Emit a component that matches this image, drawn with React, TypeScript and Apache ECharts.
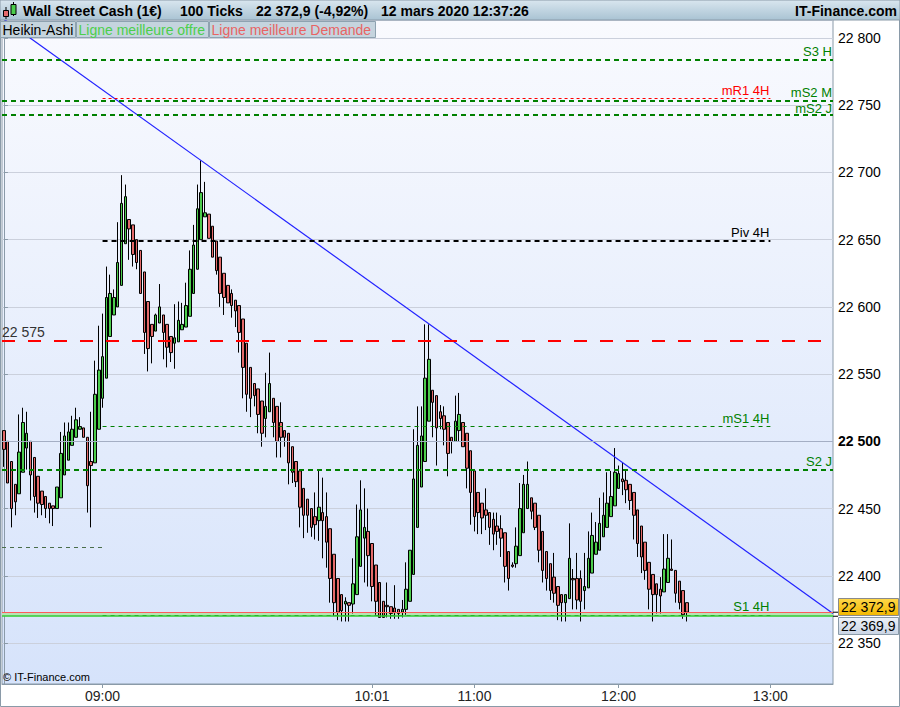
import React, { useEffect, useRef } from 'react';
import * as echarts from 'echarts';

const FONT = '"Liberation Sans", Arial, sans-serif';

// Heikin-Ashi candles (100 ticks each)
const opens = [22508,22500,22485,22468,22461,22477,22495,22500,22488,22474,22463,22459,22454,22452,22450,22458,22475,22486,22497,22503,22509,22510,22503,22485,22484,22509,22532,22547,22578,22594,22600,22616,22647,22665,22661,22650,22642,22626,22604,22587,22582,22588,22594,22587,22578,22573,22574,22583,22585,22593,22610,22628,22650,22667,22669,22660,22649,22637,22625,22616,22610,22605,22601,22591,22573,22555,22543,22539,22530,22517,22522,22532,22526,22514,22508,22506,22496,22485,22478,22465,22457,22450,22444,22441,22447,22444,22435,22416,22398,22386,22379,22380,22379,22386,22407,22428,22433,22424,22408,22395,22381,22378,22377,22376,22375,22373,22375,22381,22401,22436,22466,22485,22515,22538,22534,22522,22519,22514,22503,22500,22508,22514,22506,22493,22478,22462,22454,22449,22447,22442,22437,22435,22432,22418,22408,22409,22415,22432,22450,22458,22454,22445,22433,22418,22409,22399,22392,22386,22380,22383,22398,22398,22398,22389,22391,22402,22416,22419,22429,22436,22444,22452,22465,22472,22471,22468,22462,22449,22437,22425,22410,22401,22394,22390,22388,22395,22405,22404,22396,22389,22380];
const closes = [22494,22469,22450,22455,22492,22514,22506,22475,22459,22454,22453,22450,22450,22450,22466,22491,22504,22507,22509,22516,22511,22503,22467,22482,22535,22553,22563,22607,22610,22607,22633,22677,22682,22658,22639,22633,22610,22581,22569,22578,22594,22600,22581,22570,22566,22577,22590,22587,22601,22628,22646,22673,22685,22670,22651,22637,22627,22610,22607,22603,22601,22597,22581,22555,22535,22532,22534,22520,22506,22526,22543,22514,22500,22503,22503,22484,22477,22470,22451,22445,22445,22436,22438,22451,22441,22425,22398,22380,22373,22374,22381,22378,22394,22429,22449,22436,22415,22392,22381,22369,22369,22377,22372,22373,22372,22375,22390,22419,22472,22497,22504,22547,22561,22529,22510,22517,22509,22491,22500,22515,22520,22496,22480,22462,22444,22447,22443,22445,22436,22431,22433,22428,22407,22398,22407,22422,22450,22468,22468,22448,22436,22419,22404,22398,22389,22387,22378,22380,22386,22413,22397,22382,22381,22392,22413,22430,22425,22439,22445,22454,22459,22477,22476,22470,22464,22456,22445,22424,22414,22404,22390,22386,22386,22385,22405,22413,22404,22387,22380,22371,22373];
const lows = [22481,22469,22436,22445,22461,22477,22479,22456,22447,22443,22445,22443,22439,22437,22450,22458,22475,22486,22497,22503,22509,22503,22447,22436,22484,22509,22525,22547,22578,22594,22600,22616,22647,22635,22630,22628,22610,22565,22552,22558,22582,22588,22561,22555,22559,22554,22574,22583,22585,22593,22610,22628,22650,22667,22651,22637,22624,22600,22594,22603,22592,22585,22566,22532,22522,22518,22526,22506,22496,22503,22522,22503,22488,22488,22496,22468,22469,22466,22436,22428,22432,22429,22427,22426,22413,22406,22380,22370,22367,22366,22366,22366,22372,22386,22407,22395,22392,22381,22371,22369,22369,22369,22368,22368,22368,22369,22371,22381,22401,22436,22466,22485,22515,22503,22482,22509,22497,22474,22491,22500,22500,22496,22465,22438,22433,22431,22431,22434,22423,22419,22423,22414,22395,22389,22406,22406,22415,22432,22450,22442,22434,22410,22395,22389,22382,22380,22367,22366,22366,22383,22375,22375,22366,22375,22391,22402,22416,22419,22429,22436,22444,22452,22465,22460,22454,22449,22427,22414,22402,22397,22375,22366,22372,22372,22388,22395,22404,22380,22375,22368,22366];
const highs = [22508,22500,22485,22468,22520,22525,22522,22500,22488,22474,22463,22459,22454,22452,22466,22507,22514,22514,22519,22525,22518,22510,22503,22522,22560,22586,22595,22630,22624,22613,22663,22698,22691,22665,22661,22650,22642,22626,22604,22587,22595,22617,22594,22587,22578,22602,22604,22603,22618,22642,22661,22691,22709,22693,22669,22660,22649,22637,22625,22616,22613,22605,22601,22591,22573,22555,22543,22539,22530,22551,22566,22532,22526,22529,22508,22506,22496,22485,22478,22465,22457,22450,22462,22479,22473,22462,22435,22416,22398,22386,22384,22380,22413,22453,22471,22465,22450,22424,22408,22395,22381,22395,22377,22393,22375,22382,22410,22419,22509,22526,22526,22587,22587,22538,22534,22527,22526,22514,22503,22534,22536,22514,22506,22493,22478,22462,22454,22465,22447,22447,22447,22445,22432,22418,22410,22436,22469,22475,22485,22458,22454,22445,22433,22418,22409,22417,22392,22386,22386,22439,22405,22417,22404,22417,22433,22447,22440,22458,22462,22477,22478,22495,22482,22484,22479,22468,22462,22449,22437,22425,22410,22401,22394,22399,22431,22431,22427,22404,22396,22389,22380];

const slotCount = 219;
const tickIndex = [26, 97, 124, 162, 202];
const tickLabels = ['09:00', '10:01', '11:00', '12:00', '13:00'];

const yMin = 22319.5;
const yMax = 22813.4;
const askPrice = 22372.9;
const bidPrice = 22369.9;
const highlightTick = 22500;

const trendStart = [0, 22814];
const trendEnd = [218.5, 22372];

const fullLevelNames = ['S3 H', 'mS2 M', 'mS2 J', 'S2 J'];
const fullLevelValues = [22784, 22753, 22743, 22479];
const refLevelName = '22 575';
const refLevelValue = 22575;
const h4LevelNames = ['mR1 4H', 'Piv 4H', 'mS1 4H', 'S1 4H'];
const h4LevelValues = [22755, 22649, 22511, 22371];
const prevLevelValue = 22421;
const periodStart = 26;
const periodEnd = 202;

const headerTexts = ['Wall Street Cash (1€)', '100 Ticks', '22 372,9 (-4,92%)', '12 mars 2020 12:37:26'];
const brandText = 'IT-Finance.com';
const legendTexts = ['Heikin-Ashi', 'Ligne meilleure offre', 'Ligne meilleure Demande'];

function fmtPrice(v: number, dec = 0) {
  const th = Math.floor(v / 1000);
  const rest = (v - th * 1000).toFixed(dec).replace('.', ',');
  const [ip, dp] = rest.split(',');
  return th + ' ' + ip.padStart(3, '0') + (dp ? ',' + dp : '');
}

export default function App() {
  const ref = useRef<HTMLDivElement>(null);
  useEffect(() => {
    const chart = echarts.init(ref.current!, null, { renderer: 'svg' });
    const candleData = opens.map((o, i) => [o, closes[i], lows[i], highs[i]]);
    const slots = Array.from({ length: slotCount }, (_, i) => String(i));
    const showTick = (i: number) => tickIndex.includes(i);

    const labelBase = { show: true, fontSize: 13, fontFamily: FONT, distance: [1, 2] };
    const fullDistances = [[1, 2], [1, 2], [1, 0], [1, 2]];
    const h4Styles = [
      { color: '#ff0000', width: 1, type: [3, 3] },
      { color: '#000000', width: 2, type: [5, 4] },
      { color: '#008000', width: 1, type: [4, 4] },
      { color: '#008000', width: 1, type: [4, 4] },
    ];

    const markLines: any[] = [
      { yAxis: highlightTick, lineStyle: { color: '#a4aec4', width: 1, type: 'solid' }, label: { show: false } },
      ...fullLevelValues.map((v, i) => ({
        yAxis: v,
        lineStyle: { color: '#008000', width: 2, type: [5, 4] },
        label: { ...labelBase, distance: fullDistances[i], formatter: fullLevelNames[i], position: 'insideEndTop', color: '#008000' },
      })),
      {
        yAxis: refLevelValue,
        lineStyle: { color: '#ff0000', width: 2, type: [13, 13] },
        label: { ...labelBase, fontSize: 14, formatter: refLevelName, position: 'insideStartTop', color: '#333333', distance: [0, 2] },
      },
      ...h4LevelValues.map((v, i) => [
        {
          coord: [periodStart, v],
          lineStyle: h4Styles[i],
          label: { ...labelBase, formatter: h4LevelNames[i], position: 'insideEndTop', color: h4Styles[i].color },
        },
        { coord: [periodEnd, v] },
      ]),
      [
        { coord: [-0.5, prevLevelValue], lineStyle: { color: '#4a6e4a', width: 1, type: [4, 4] }, label: { show: false } },
        { coord: [periodStart, prevLevelValue] },
      ],
      { yAxis: askPrice, lineStyle: { color: '#ff5a5a', width: 1, type: 'solid' }, label: { show: false } },
      { yAxis: bidPrice, lineStyle: { color: '#33cc33', width: 1.5, type: 'solid' }, label: { show: false } },
    ];

    const option: any = {
      animation: false,
      backgroundColor: '#ffffff',
      grid: {
        left: 2, right: 67, top: 20, bottom: 23, show: true,
        backgroundColor: new echarts.graphic.LinearGradient(0, 0, 0, 1, [
          { offset: 0, color: '#f9fafe' },
          { offset: 1, color: '#d6e3fb' },
        ]),
        borderColor: '#8a9aa8', borderWidth: 1,
      },
      xAxis: [
        {
          type: 'category', data: slots, boundaryGap: true,
          axisLine: { show: true, lineStyle: { color: '#8a9aa8' } },
          axisTick: { show: true, interval: (i: number) => showTick(i), alignWithLabel: true, length: 4, lineStyle: { color: '#8a9aa8' } },
          axisLabel: {
            interval: (i: number) => showTick(i),
            formatter: (_v: string, i: number) => tickLabels[tickIndex.indexOf(i)] ?? '',
            color: '#222', fontSize: 14, fontFamily: FONT, margin: 5,
          },
          splitLine: { show: false },
        },
        { type: 'value', min: -0.5, max: slotCount - 0.5, show: false },
      ],
      yAxis: {
        type: 'value', position: 'right', min: yMin, max: yMax, splitNumber: 10, scale: true,
        axisLine: { show: true, lineStyle: { color: '#8a9aa8' } },
        axisTick: { show: true, length: 4, lineStyle: { color: '#8a9aa8' } },
        axisLabel: {
          color: '#000', fontSize: 14, fontFamily: FONT, margin: 5,
          showMinLabel: false, showMaxLabel: false,
          formatter: (v: number) => (v === highlightTick ? `{b|${fmtPrice(v)}}` : fmtPrice(v)),
          rich: { b: { fontWeight: 'bold', fontSize: 14, fontFamily: FONT, color: '#000' } },
        },
        splitLine: { show: true, lineStyle: { color: '#cbd0dc' } },
      },
      series: [
        {
          type: 'line', xAxisIndex: 1, yAxisIndex: 0, data: [], z: 1, silent: true,
          markArea: {
            silent: true,
            itemStyle: { color: '#b6e3b6' },
            data: [[{ yAxis: bidPrice }, { yAxis: askPrice }]],
          },
        },
        {
          type: 'candlestick', xAxisIndex: 0, yAxisIndex: 0, z: 2, barWidth: 3,
          data: candleData,
          itemStyle: { color: '#4ccd4c', color0: '#e46a6a', borderColor: '#000', borderColor0: '#000', borderWidth: 1 },
        },
        {
          type: 'line', xAxisIndex: 1, yAxisIndex: 0, z: 3, silent: true,
          data: [trendStart, trendEnd], symbol: 'none',
          lineStyle: { color: '#2222ff', width: 1.2 },
          markLine: { silent: true, symbol: ['none', 'none'], data: markLines },
        },
      ],
    };
    chart.setOption(option);

    const yAsk = chart.convertToPixel({ yAxisIndex: 0 }, askPrice) as number;
    const yBid = chart.convertToPixel({ yAxisIndex: 0 }, bidPrice) as number;

    const legendBoxes = [
      { x: 0, w: 75, color: '#000000' },
      { x: 76, w: 132, color: '#4ccf4c' },
      { x: 209, w: 166, color: '#e86464' },
    ];
    const headerX = [23, 180, 256, 381];

    const graphic: any[] = [
      {
        type: 'rect', z: 100, shape: { x: 0, y: 0, width: 900, height: 20 },
        style: {
          fill: new echarts.graphic.LinearGradient(0, 0, 0, 1, [
            { offset: 0, color: '#d9e6ef' },
            { offset: 1, color: '#a9c3d3' },
          ]),
          stroke: '#8a9aa8', lineWidth: 1,
        },
      },
      { type: 'line', z: 101, shape: { x1: 6, y1: 7, x2: 6, y2: 19 }, style: { stroke: '#000', lineWidth: 1 } },
      { type: 'rect', z: 102, shape: { x: 3.5, y: 10.5, width: 5, height: 6 }, style: { fill: '#e46a6a', stroke: '#000', lineWidth: 1 } },
      { type: 'line', z: 101, shape: { x1: 13.5, y1: 2, x2: 13.5, y2: 16 }, style: { stroke: '#000', lineWidth: 1 } },
      { type: 'rect', z: 102, shape: { x: 11, y: 4.5, width: 5, height: 10 }, style: { fill: '#4ccd4c', stroke: '#000', lineWidth: 1 } },
      ...headerTexts.map((t, i) => ({
        type: 'text', z: 103, x: headerX[i], y: 11,
        style: { text: t, fill: '#000', font: `bold 14px ${FONT}`, verticalAlign: 'middle', align: 'left' },
      })),
      {
        type: 'text', z: 103, x: 897, y: 11,
        style: { text: brandText, fill: '#000', font: `bold 14px ${FONT}`, verticalAlign: 'middle', align: 'right' },
      },
      ...legendBoxes.map((b, i) => ({
        type: 'group', z: 100,
        children: [
          {
            type: 'rect', z: 100, shape: { x: b.x + 0.5, y: 21.5, width: b.w, height: 16 },
            style: { fill: '#c5d4de', stroke: '#8ea2b0', lineWidth: 1 },
          },
          {
            type: 'text', z: 101, x: b.x + 2.5, y: 30,
            style: { text: legendTexts[i], fill: b.color, font: `14px ${FONT}`, verticalAlign: 'middle', align: 'left' },
          },
        ],
      })),
      {
        type: 'text', z: 100, x: 3, y: 677,
        style: { text: '© IT-Finance.com', fill: '#000', font: `11px ${FONT}`, verticalAlign: 'middle', align: 'left' },
      },
      // price tags
      { type: 'line', z: 100, shape: { x1: 833, y1: yAsk, x2: 838, y2: yAsk }, style: { stroke: '#000', lineWidth: 1 } },
      { type: 'line', z: 100, shape: { x1: 833, y1: yBid, x2: 838, y2: yBid }, style: { stroke: '#000', lineWidth: 1 } },
      {
        type: 'rect', z: 100, shape: { x: 838.5, y: Math.round(yAsk) - 13.5, width: 60, height: 17 },
        style: {
          fill: new echarts.graphic.LinearGradient(0, 0, 0, 1, [
            { offset: 0, color: '#ffd84a' },
            { offset: 1, color: '#f2b700' },
          ]),
          stroke: '#8a8a8a', lineWidth: 1,
        },
      },
      {
        type: 'text', z: 101, x: 841, y: Math.round(yAsk) - 5,
        style: { text: fmtPrice(askPrice, 1), fill: '#000', font: `14px ${FONT}`, verticalAlign: 'middle', align: 'left' },
      },
      {
        type: 'rect', z: 100, shape: { x: 838.5, y: Math.round(yBid) + 1.5, width: 60, height: 17 },
        style: {
          fill: new echarts.graphic.LinearGradient(0, 0, 0, 1, [
            { offset: 0, color: '#eef2f8' },
            { offset: 1, color: '#c9d4e4' },
          ]),
          stroke: '#8a9aa8', lineWidth: 1,
        },
      },
      {
        type: 'text', z: 101, x: 841, y: Math.round(yBid) + 10,
        style: { text: fmtPrice(bidPrice, 1), fill: '#000', font: `14px ${FONT}`, verticalAlign: 'middle', align: 'left' },
      },
      {
        type: 'rect', z: 99, silent: true, shape: { x: 0.5, y: 0.5, width: 899, height: 706 },
        style: { fill: 'none', stroke: '#8a9aa8', lineWidth: 1 },
      },
    ];
    chart.setOption({ graphic });

    return () => chart.dispose();
  }, []);

  return <div ref={ref} style={{ position: 'fixed', left: 0, top: 0, width: 900, height: 707 }} />;
}
